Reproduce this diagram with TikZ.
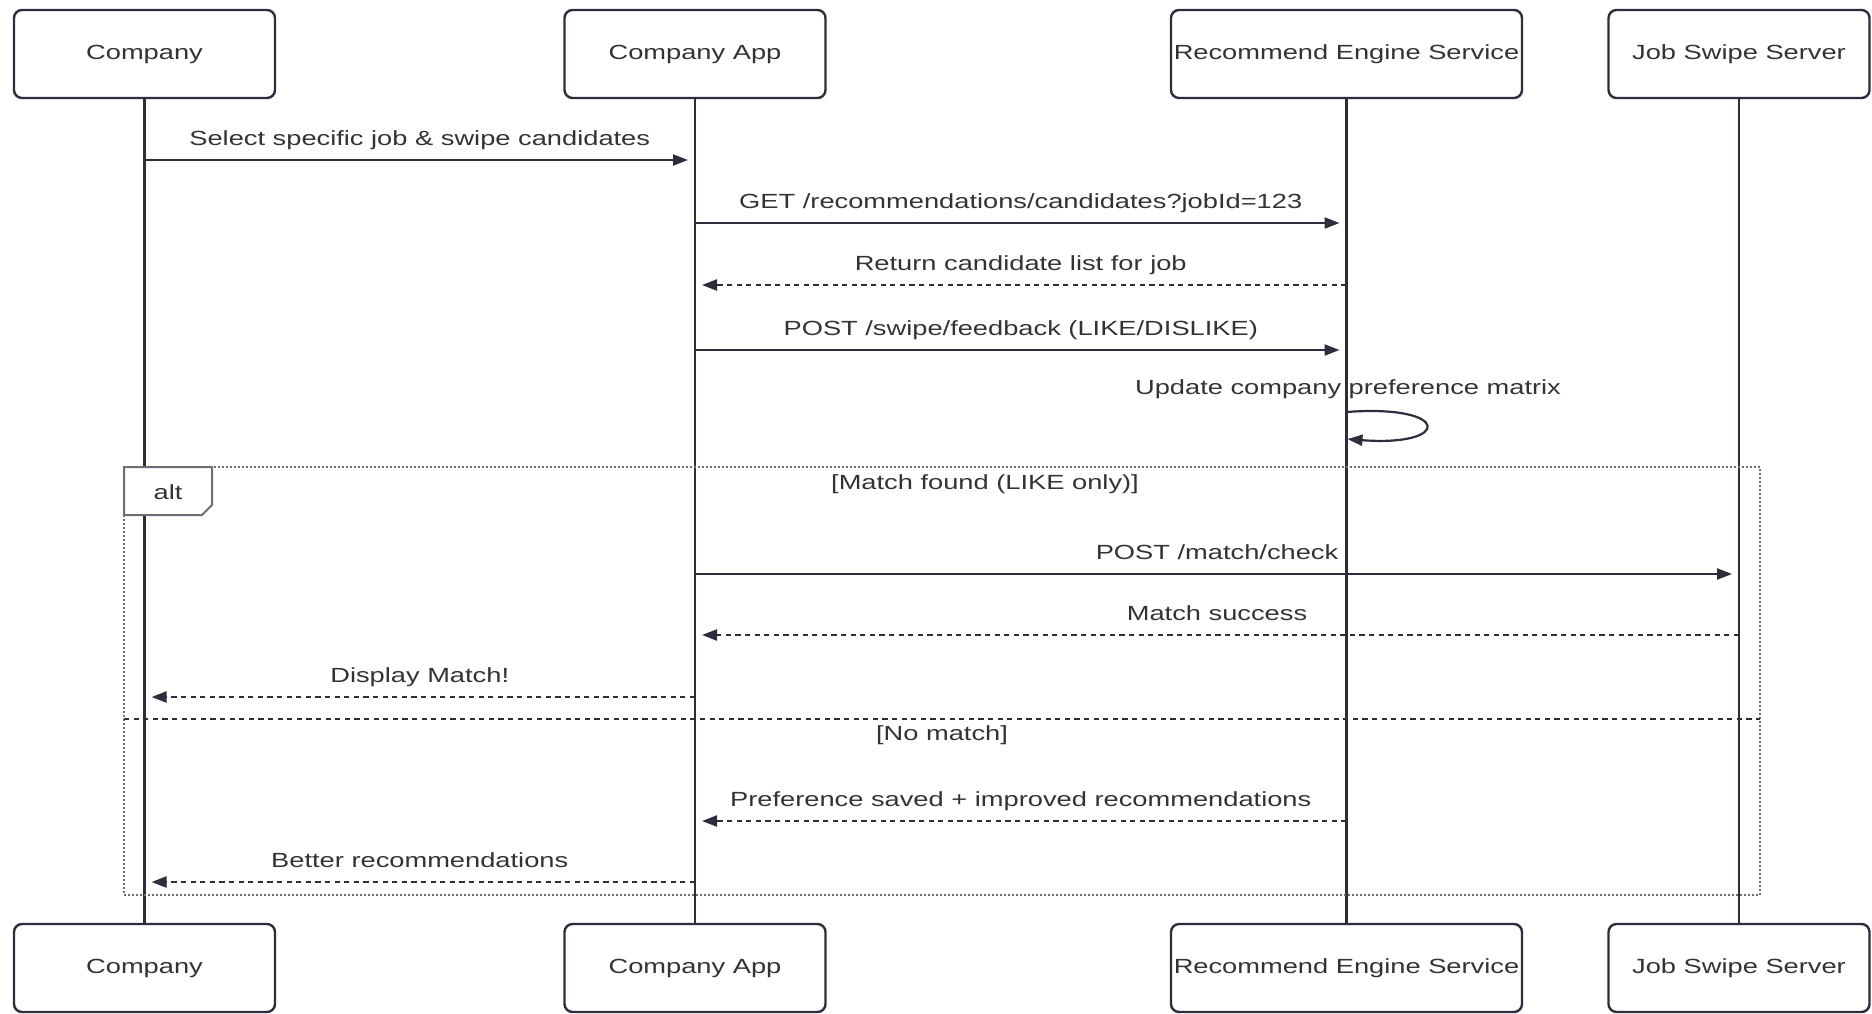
\documentclass[tikz,border=0pt]{standalone}
\usepackage{fontspec}
\setmainfont{Liberation Sans}[FakeStretch=1.33]
\usetikzlibrary{arrows.meta}
\definecolor{SeqInk}{RGB}{45,45,62}
\definecolor{SeqText}{RGB}{51,51,51}
\definecolor{SeqFrame}{RGB}{110,110,122}
\tikzset{
  seq/actor/.style={
    draw=SeqInk,
    line width=1.2pt,
    rounded corners=4pt,
    fill=white,
    text=SeqText,
    minimum width=130.5pt,
    minimum height=44pt,
    inner sep=0pt,
    font=\fontsize{10.25}{12}\selectfont
  },
  seq/life/.style={draw=SeqInk, line width=1.1pt},
  seq/msg/.style={-{Triangle[length=7.5pt,width=5.5pt]}, draw=SeqInk, line width=1.1pt, shorten >=3.5pt},
  seq/reply/.style={seq/msg, dash pattern=on 2.6pt off 2.2pt},
  seq/label/.style={midway, anchor=base, yshift=7.5pt, text=SeqText, font=\fontsize{10.25}{12}\selectfont},
  seq/frame/.style={draw=SeqFrame, line width=1pt, dash pattern=on 1pt off 1pt},
  seq/split/.style={draw=SeqInk, line width=0.9pt, dash pattern=on 2.6pt off 2.2pt},
  seq/guard/.style={text=SeqText, font=\fontsize{10.25}{12}\selectfont}
}

\begin{document}
\begin{tikzpicture}[x=0.5pt,y=-0.5pt]
  \useasboundingbox (0,0) rectangle (1872,1013);
  % participants
  \node[seq/actor] (comp) at (144.5,54) {Company};
  \node[seq/actor] (app) at (695,54) {Company App};
  \node[seq/actor,minimum width=175.5pt] (reco) at (1346.5,54) {Recommend Engine Service};
  \node[seq/actor] (swipe) at (1739,54) {Job Swipe Server};
  \node[seq/actor] (compB) at (144.5,968) {Company};
  \node[seq/actor] (appB) at (695,968) {Company App};
  \node[seq/actor,minimum width=175.5pt] (recoB) at (1346.5,968) {Recommend Engine Service};
  \node[seq/actor] (swipeB) at (1739,968) {Job Swipe Server};
  % lifelines
  \draw[seq/life] (comp) -- (compB);
  \draw[seq/life] (app) -- (appB);
  \draw[seq/life] (reco) -- (recoB);
  \draw[seq/life] (swipe) -- (swipeB);

  \draw[seq/msg] (comp |- 0,160) -- node[seq/label] {Select specific job \& swipe candidates} (app |- 0,160);
  \draw[seq/msg] (app |- 0,223) -- node[seq/label] {GET /recommendations/candidates?jobId=123} (reco |- 0,223);
  \draw[seq/reply] (reco |- 0,285) -- node[seq/label] {Return candidate list for job} (app |- 0,285);
  \draw[seq/msg] (app |- 0,350) -- node[seq/label] {POST /swipe/feedback (LIKE/DISLIKE)} (reco |- 0,350);
  \node[seq/guard] (upd) at (1348,389) {Update company preference matrix};
  \draw[seq/msg,shorten >=0.5pt] (reco |- 0,412) .. controls (1452,404) and (1452,447) .. (reco |- 0,439);

  % alt block
  \draw[seq/frame] (124,467) rectangle (1760,895);
  \draw[seq/frame,solid,fill=white] (124,467) -- (212,467) -- (212,505) -- (202,515) -- (124,515) -- cycle;
  \node[seq/guard] (alt) at (168,492) {alt};
  \node[seq/guard] (match) at (985,484) {[Match found (LIKE only)]};
  \draw[seq/msg] (app |- 0,574) -- node[seq/label] {POST /match/check} (swipe |- 0,574);
  \draw[seq/reply] (swipe |- 0,635) -- node[seq/label] {Match success} (app |- 0,635);
  \draw[seq/reply] (app |- 0,697) -- node[seq/label] {Display Match!} (comp |- 0,697);
  \draw[seq/split] (124,719) -- (1760,719);
  \node[seq/guard] (nomatch) at (942,735) {[No match]};
  \draw[seq/reply] (reco |- 0,821) -- node[seq/label] {Preference saved + improved recommendations} (app |- 0,821);
  \draw[seq/reply] (app |- 0,882) -- node[seq/label] {Better recommendations} (comp |- 0,882);
\end{tikzpicture}
\end{document}
